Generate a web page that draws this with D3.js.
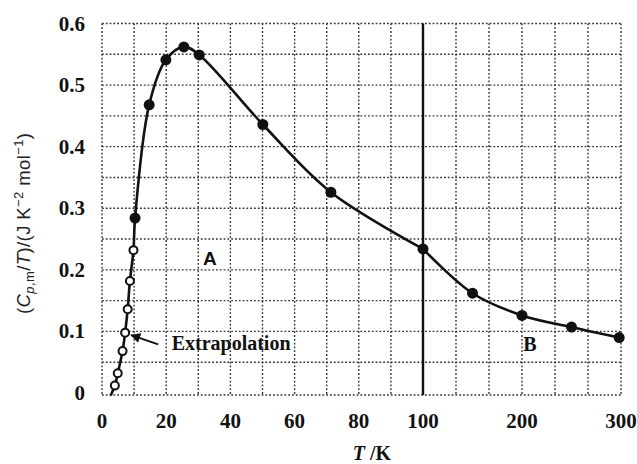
<!DOCTYPE html>
<html>
<head>
<meta charset="utf-8">
<script src="https://cdn.jsdelivr.net/npm/d3@7"></script>
<style>
  body { margin: 0; background: #fff; }
  svg { display: block; }
  .tick-label { font-family: "Liberation Serif", serif; font-weight: bold; font-size: 21px; fill: #111; }
</style>
</head>
<body>
<svg id="chart" width="637" height="464"></svg>
<script>
// heat capacity data
const openT = [4.0, 4.9, 6.4, 7.2, 8.0, 8.7, 9.8]
const openV = [0.012, 0.032, 0.068, 0.098, 0.136, 0.182, 0.232]
const filledT = [10.3, 14.7, 19.9, 25.5, 30.3, 50.1, 71.3, 100, 150, 200, 250, 298.15]
const filledV = [0.284, 0.468, 0.541, 0.562, 0.549, 0.436, 0.326, 0.234, 0.162, 0.126, 0.107, 0.090]
// where the extrapolated curve meets the frame bottom
const startT = [2.7]
const startV = [-0.004]

const xTicks = [0, 20, 40, 60, 80, 100, 200, 300]
const yTicks = [0, 0.1, 0.2, 0.3, 0.4, 0.5, 0.6]
const xGrid = [0, 10, 20, 30, 40, 50, 60, 70, 80, 90, 100, 133.33, 166.67, 200, 233.33, 266.67, 300]
const yGrid = d3.range(0, 0.6001, 0.05)

const svg = d3.select('#chart')

// axis breaks at 100 K, after that 100 K per three cells
const x = d3.scaleLinear().domain([0, 100, 300]).range([102, 423, 621])
const y = d3.scaleLinear().domain([0, 0.6]).range([393, 23.5])

const grid = svg.append('g')
    .attr('stroke', '#333')
    .attr('stroke-width', 1.4)
    .attr('stroke-dasharray', '1.8,2')

grid.selectAll('line.v')
    .data(xGrid)
    .join('line')
    .attr('class', 'v')
    .attr('x1', d => x(d)).attr('x2', d => x(d))
    .attr('y1', y(0.6)).attr('y2', y(0) + 2)

grid.selectAll('line.h')
    .data(yGrid)
    .join('line')
    .attr('class', 'h')
    .attr('x1', x(0)).attr('x2', x(300))
    .attr('y1', d => d === 0 ? y(d) + 2 : y(d))
    .attr('y2', d => d === 0 ? y(d) + 2 : y(d))

// solid line at the break
svg.append('line')
    .attr('x1', x(100)).attr('x2', x(100))
    .attr('y1', y(0.6)).attr('y2', y(0) + 2)
    .attr('stroke', '#111')
    .attr('stroke-width', 2.4)

// tick labels
svg.selectAll('text.xt')
    .data(xTicks)
    .join('text')
    .attr('class', 'tick-label')
    .attr('x', d => x(d))
    .attr('y', 428)
    .attr('text-anchor', 'middle')
    .text(d => d)

svg.selectAll('text.yt')
    .data(yTicks)
    .join('text')
    .attr('class', 'tick-label')
    .attr('x', 85)
    .attr('y', d => y(d) + 7)
    .attr('text-anchor', 'end')
    .text(d => d === 0 ? '0' : d.toFixed(1))

// curve, drawn in two pieces so it bends at the scale break
const allT = startT.concat(openT, filledT)
const allV = startV.concat(openV, filledV)
const pts = allT.map((t, i) => [t, allV[i]])
const line = d3.line()
    .x(d => x(d[0]))
    .y(d => y(d[1]))
    .curve(d3.curveCatmullRom.alpha(0.5))

svg.append('path')
    .attr('d', line(pts.filter(d => d[0] <= 100)))
    .attr('fill', 'none')
    .attr('stroke', '#111')
    .attr('stroke-width', 2.6)

svg.append('path')
    .attr('d', line(pts.filter(d => d[0] >= 100)))
    .attr('fill', 'none')
    .attr('stroke', '#111')
    .attr('stroke-width', 2.6)

svg.selectAll('circle.filled')
    .data(filledT)
    .join('circle')
    .attr('class', 'filled')
    .attr('cx', d => x(d))
    .attr('cy', (d, i) => y(filledV[i]))
    .attr('r', 5.5)
    .attr('fill', '#111')

svg.selectAll('circle.open')
    .data(openT)
    .join('circle')
    .attr('class', 'open')
    .attr('cx', d => x(d))
    .attr('cy', (d, i) => y(openV[i]))
    .attr('r', 4)
    .attr('fill', '#fff')
    .attr('stroke', '#111')
    .attr('stroke-width', 2)

// annotations
svg.append('defs').append('marker')
    .attr('id', 'head')
    .attr('viewBox', '0 0 10 10')
    .attr('refX', 9).attr('refY', 5)
    .attr('markerWidth', 5).attr('markerHeight', 5)
    .attr('orient', 'auto')
    .append('path')
    .attr('d', 'M0,0L10,5L0,10z')
    .attr('fill', '#111')

svg.append('line')
    .attr('x1', x(17.5)).attr('y1', y(0.079))
    .attr('x2', x(9.1)).attr('y2', y(0.094))
    .attr('stroke', '#111')
    .attr('stroke-width', 2)
    .attr('marker-end', 'url(#head)')

svg.append('text')
    .attr('x', x(21.7)).attr('y', y(0.081) + 7)
    .style('font', 'bold 20px "Liberation Serif", serif')
    .attr('fill', '#111')
    .text('Extrapolation')

svg.append('text')
    .attr('x', x(33.6)).attr('y', y(0.220) + 7)
    .attr('text-anchor', 'middle')
    .style('font', 'bold 19px "Liberation Sans", sans-serif')
    .attr('fill', '#111')
    .text('A')

svg.append('text')
    .attr('x', x(208)).attr('y', y(0.079) + 7)
    .attr('text-anchor', 'middle')
    .style('font', 'bold 20px "Liberation Serif", serif')
    .attr('fill', '#111')
    .text('B')

// axis titles
const xt = svg.append('text')
    .attr('x', 372).attr('y', 460)
    .attr('text-anchor', 'middle')
    .style('font', 'bold 20px "Liberation Serif", serif')
    .attr('fill', '#111')
xt.append('tspan').style('font-style', 'italic').text('T')
xt.append('tspan').text(' /K')

const yt = svg.append('text')
    .attr('transform', 'translate(30,314) rotate(-90)')
    .style('font', '18.5px "Liberation Sans", sans-serif')
    .style('letter-spacing', '0.4px')
    .attr('fill', '#222')
yt.append('tspan').text('(')
yt.append('tspan').style('font-style', 'italic').text('C')
yt.append('tspan').attr('dy', 4).style('font-size', '13px').style('font-style', 'italic').text('p')
yt.append('tspan').style('font-size', '13px').text(',m')
yt.append('tspan').attr('dy', -4).text('/')
yt.append('tspan').style('font-style', 'italic').text('T')
yt.append('tspan').text(')/(J K')
yt.append('tspan').attr('dy', -7).style('font-size', '13px').text('\u22122')
yt.append('tspan').attr('dy', 7).text(' mol')
yt.append('tspan').attr('dy', -7).style('font-size', '13px').text('\u22121')
yt.append('tspan').attr('dy', 7).text(')')
</script>
</body>
</html>
